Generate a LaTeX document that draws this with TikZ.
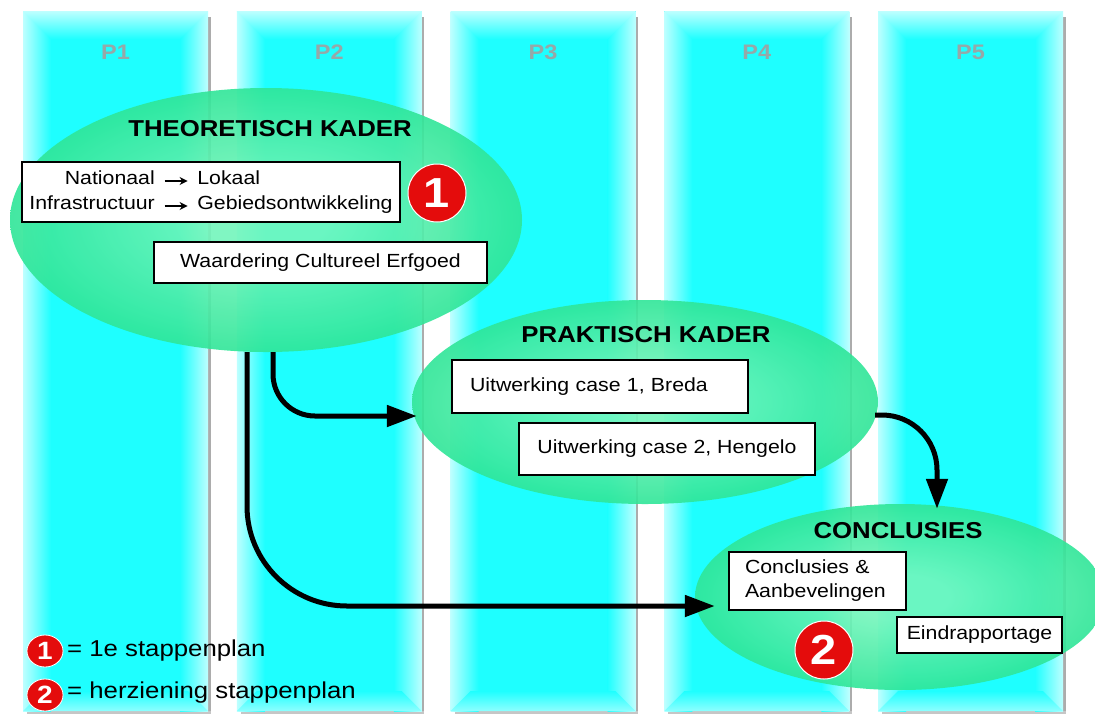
\documentclass[tikz,border=0pt]{standalone}
\usepackage{fontspec}
\setmainfont{Liberation Sans}[FakeStretch=1.12]
\usetikzlibrary{arrows.meta,shapes.geometric}

\definecolor{cy}{RGB}{30,255,255}
\definecolor{cyl}{RGB}{190,255,255}
\definecolor{mintin}{RGB}{115,246,188}
\definecolor{mintout}{RGB}{40,228,148}
\definecolor{redc}{RGB}{228,12,12}
\definecolor{plab}{RGB}{150,168,168}
\pgfdeclareradialshading{glow}{\pgfpoint{0bp}{0bp}}{color(0bp)=(mintin); color(6bp)=(mintin); color(27bp)=(mintout); color(50bp)=(mintout)}

\newcommand\arr{\tikz[baseline=-0.35ex]\draw[line width=1.6pt,-{Stealth[length=8pt,width=8pt]}] (0pt,0pt) -- (23pt,0pt);}

\tikzset{
  ell/.style={ellipse, inner sep=0pt, shade, shading=glow, opacity=0.9},
  title/.style={font=\fontsize{23}{23}\selectfont\bfseries, text=black},
  plabel/.style={font=\fontsize{21}{21}\selectfont\bfseries, text=plab},
  box/.style={draw=black, line width=1.6pt, fill=white, inner sep=0pt,
    font=\fontsize{19}{25}\selectfont},
  redbig/.style={circle, fill=redc, draw=white, line width=1pt, minimum size=58pt,
    inner sep=0pt, text=white, font=\fontsize{42}{42}\selectfont\bfseries},
  redsmall/.style={ellipse, fill=redc, draw=white, line width=0.8pt, minimum width=36pt,
    minimum height=32pt, inner sep=0pt, text=white, font=\fontsize{25}{25}\selectfont\bfseries},
  legtext/.style={anchor=west, inner sep=0pt, font=\fontsize{23}{23}\selectfont},
  flow/.style={line width=5pt, -{Triangle[length=30pt,width=21pt]}},
}

\begin{document}
\begin{tikzpicture}[x=1pt,y=-1pt]
\useasboundingbox (0,0) rectangle (1095,716);
\fill[white] (0,0) rectangle (1095,716);

% columns
\foreach \i/\lab in {0/P1,1/P2,2/P3,3/P4,4/P5}{
  \pgfmathsetmacro\xa{23+213.75*\i}
  \pgfmathsetmacro\xb{\xa+185}
  \fill[gray!65] (\xb,17) rectangle (\xb+2.5,713.5);
  \fill[gray!45] (\xa+4,711) rectangle (\xb+2.5,713.5);
  \fill[cy] (\xa,11) rectangle (\xb,711);
  \shade[left color=cyl, right color=cy] (\xa,11) rectangle (\xa+28,711);
  \shade[left color=cy, right color=cyl] (\xb-28,11) rectangle (\xb,711);
  \shade[top color=cyl, bottom color=cy] (\xa,11) -- (\xb,11) -- (\xb-28,39) -- (\xa+28,39) -- cycle;
  \shade[top color=cy, bottom color=cyl!70!cy] (\xa+20,691) -- (\xb-20,691) -- (\xb,711) -- (\xa,711) -- cycle;
  \node[plabel] (p\i) at (\xa+92.5,52) {\lab};
}

% ellipses
\node[ell, minimum width=512pt, minimum height=264pt] (theo) at (266,220) {};
\node[ell, minimum width=466pt, minimum height=204pt] (prak) at (645,402) {};
\node[ell, minimum width=410pt, minimum height=186pt] (conc) at (900,597) {};

% titles
\node[title] (theot) at (270,129) {THEORETISCH KADER};
\node[title] (prakt) at (646,335) {PRAKTISCH KADER};
\node[title] (conct) at (898,531) {CONCLUSIES};

% boxes
\node[box, minimum width=378pt, minimum height=60pt] (nat) at (211,192)
  {\begin{tabular}{@{}r@{\hspace{9pt}}c@{\hspace{9pt}}l@{}}
   Nationaal & \arr & Lokaal\\
   Infrastructuur & \arr & Gebiedsontwikkeling
   \end{tabular}};
\node[box, minimum width=333pt, minimum height=41pt] (waard) at (320.5,262.5) {Waardering Cultureel Erfgoed};
\node[box, minimum width=296pt, minimum height=53pt, text width=260pt, align=left, inner xsep=18pt] (breda) at (600,386.5) {Uitwerking case 1, Breda};
\node[box, minimum width=296pt, minimum height=52pt] (heng) at (667,449) {Uitwerking case 2, Hengelo\hspace{12pt}};
\node[box, minimum width=177pt, minimum height=58pt, text width=145pt, align=left, inner xsep=16pt, font=\fontsize{19}{24}\selectfont] (cab) at (817.5,581) {Conclusies \&\\Aanbevelingen};
\node[box, minimum width=165pt, minimum height=36pt] (eind) at (979.5,635) {Eindrapportage};

% numbered markers
\node[redbig] (n1) at (437,193) {1};
\node[redbig] (n2) at (824,650) {2};

% legend
\node[redsmall] (l1) at (45,651) {1};
\node[legtext] (lt1) at (67,651) {= 1e stappenplan};
\node[redsmall] (l2) at (45,695) {2};
\node[legtext] (lt2) at (67,693) {= herziening stappenplan};

% connectors
\draw[flow, rounded corners=42pt] ([xshift=7pt]theo.south) |- ([xshift=5pt,yshift=-14pt]prak.west);
\draw[flow, rounded corners=100pt] ([xshift=-19pt]theo.south) |- ([xshift=20pt,yshift=-9pt]conc.west);
\draw[flow, rounded corners=55pt] ([xshift=-3pt,yshift=-13pt]prak.east) -| ([xshift=37pt,yshift=-5pt]conc.north);
\end{tikzpicture}
\end{document}
